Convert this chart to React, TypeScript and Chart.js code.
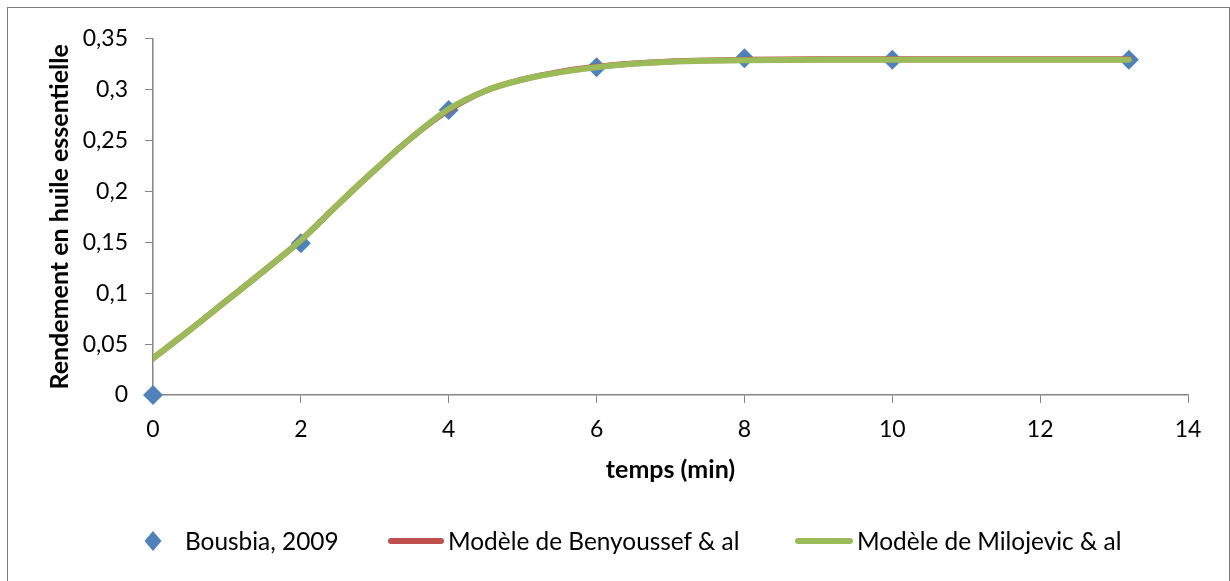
import React, { useEffect, useRef } from "react";
import { Chart, registerables } from "chart.js";

Chart.register(...registerables);

const dataX = [0, 2, 4, 6, 8, 10, 13.2];
const dataY = [0, 0.149, 0.28, 0.322, 0.331, 0.3295, 0.3295];

const modelX = [0, 0.5, 1, 1.5, 2, 2.5, 3, 3.5, 4, 4.5, 5, 5.5, 6, 6.5, 7, 7.5, 8, 9, 10, 11, 12, 13.2];
const benyoussefY = [0.036, 0.064, 0.093, 0.122, 0.152, 0.187, 0.221, 0.253, 0.28, 0.299, 0.31, 0.3175, 0.3225, 0.3258, 0.3278, 0.3288, 0.3293, 0.3298, 0.3298, 0.3298, 0.3298, 0.3298];
const milojevicY = [0.036, 0.064, 0.093, 0.122, 0.152, 0.187, 0.221, 0.253, 0.281, 0.299, 0.31, 0.317, 0.322, 0.3255, 0.3275, 0.3285, 0.329, 0.3295, 0.3295, 0.3295, 0.3295, 0.3295];

const seriesNames = ["Bousbia, 2009", "Modèle de Benyoussef & al", "Modèle de Milojevic & al"];
const xTitle = "temps (min)";
const yTitle = "Rendement en huile essentielle";

const BLUE = "#4F81BD";
const RED = "#C0504D";
const GREEN = "#9BBB59";
const AXIS = "#868686";
const FONT = "Lato, 'Open Sans', sans-serif";

export default function App() {
  const ref = useRef<HTMLCanvasElement>(null);

  useEffect(() => {
    if (!ref.current) return;
    const chart = new Chart(ref.current, {
      type: "scatter",
      data: {
        datasets: [
          {
            label: seriesNames[2],
            data: modelX.map((x, i) => ({ x, y: milojevicY[i] })),
            showLine: true,
            borderColor: GREEN,
            backgroundColor: GREEN,
            borderWidth: 6,
            borderCapStyle: "round",
            pointRadius: 0,
            cubicInterpolationMode: "monotone",
            order: 0,
          },
          {
            label: seriesNames[1],
            data: modelX.map((x, i) => ({ x, y: benyoussefY[i] })),
            showLine: true,
            borderColor: RED,
            backgroundColor: RED,
            borderWidth: 6,
            borderCapStyle: "round",
            pointRadius: 0,
            cubicInterpolationMode: "monotone",
            order: 1,
          },
          {
            label: seriesNames[0],
            data: dataX.map((x, i) => ({ x, y: dataY[i] })),
            showLine: false,
            pointStyle: "rectRot",
            pointRadius: 10,
            pointBorderWidth: 0,
            backgroundColor: BLUE,
            borderColor: BLUE,
            clip: false,
            order: 2,
          },
        ],
      } as any,
      options: {
        responsive: false,
        animation: false,
        layout: { padding: { left: 0, top: 29, right: 41, bottom: 86 } },
        plugins: { legend: { display: false }, tooltip: { enabled: false } },
        scales: {
          x: {
            type: "linear",
            min: 0,
            max: 14,
            ticks: {
              stepSize: 2,
              color: "#000",
              padding: 13,
              font: { family: FONT, size: 23 },
              callback: (v: any) => String(v),
            },
            grid: { drawOnChartArea: false, drawTicks: true, tickLength: 8, color: AXIS },
            border: { display: true, color: AXIS, width: 1.5 },
            title: {
              display: true,
              text: xTitle,
              color: "#000",
              font: { family: FONT, size: 25, weight: "bold" },
              padding: { top: 0, bottom: 10 },
            },
            afterFit: (s: any) => {
              s.height = 100;
            },
          },
          y: {
            type: "linear",
            min: 0,
            max: 0.35,
            ticks: {
              stepSize: 0.05,
              color: "#000",
              padding: 17,
              font: { family: FONT, size: 23 },
              callback: (v: any) => String(Math.round(Number(v) * 100) / 100).replace(".", ","),
            },
            grid: { drawOnChartArea: false, drawTicks: true, tickLength: 8, color: AXIS },
            border: { display: true, color: AXIS, width: 1.5 },
            title: {
              display: true,
              text: yTitle,
              color: "#000",
              font: { family: FONT, size: 25, weight: "bold" },
              padding: { top: 37, bottom: 0 },
            },
            afterFit: (s: any) => {
              s.width = 145;
            },
          },
        },
      } as any,
    });
    return () => chart.destroy();
  }, []);

  const legendText: React.CSSProperties = {
    fontFamily: FONT,
    fontSize: 24.4,
    color: "#000",
    position: "absolute",
    top: 0,
    lineHeight: "30px",
    whiteSpace: "nowrap",
  };

  return (
    <div
      style={{
        position: "absolute",
        left: 7,
        top: 7,
        width: 1223,
        height: 600,
        boxSizing: "border-box",
        border: "1px solid #7f7f7f",
        background: "#fff",
      }}
    >
      <canvas ref={ref} width={1221} height={573} style={{ display: "block" }} />
      <div style={{ position: "absolute", left: 0, top: 518, width: 1221, height: 30 }}>
        <svg style={{ position: "absolute", left: 136, top: 5 }} width={18} height={20}>
          <polygon points="9,0 17.5,10 9,20 0.5,10" fill={BLUE} />
        </svg>
        <span style={{ ...legendText, left: 177 }}>{seriesNames[0]}</span>
        <div
          style={{ position: "absolute", left: 380, top: 12, width: 56, height: 6, borderRadius: 3, background: RED }}
        />
        <span style={{ ...legendText, left: 440 }}>{seriesNames[1]}</span>
        <div
          style={{ position: "absolute", left: 787, top: 12, width: 58, height: 6, borderRadius: 3, background: GREEN }}
        />
        <span style={{ ...legendText, left: 849 }}>{seriesNames[2]}</span>
      </div>
    </div>
  );
}
